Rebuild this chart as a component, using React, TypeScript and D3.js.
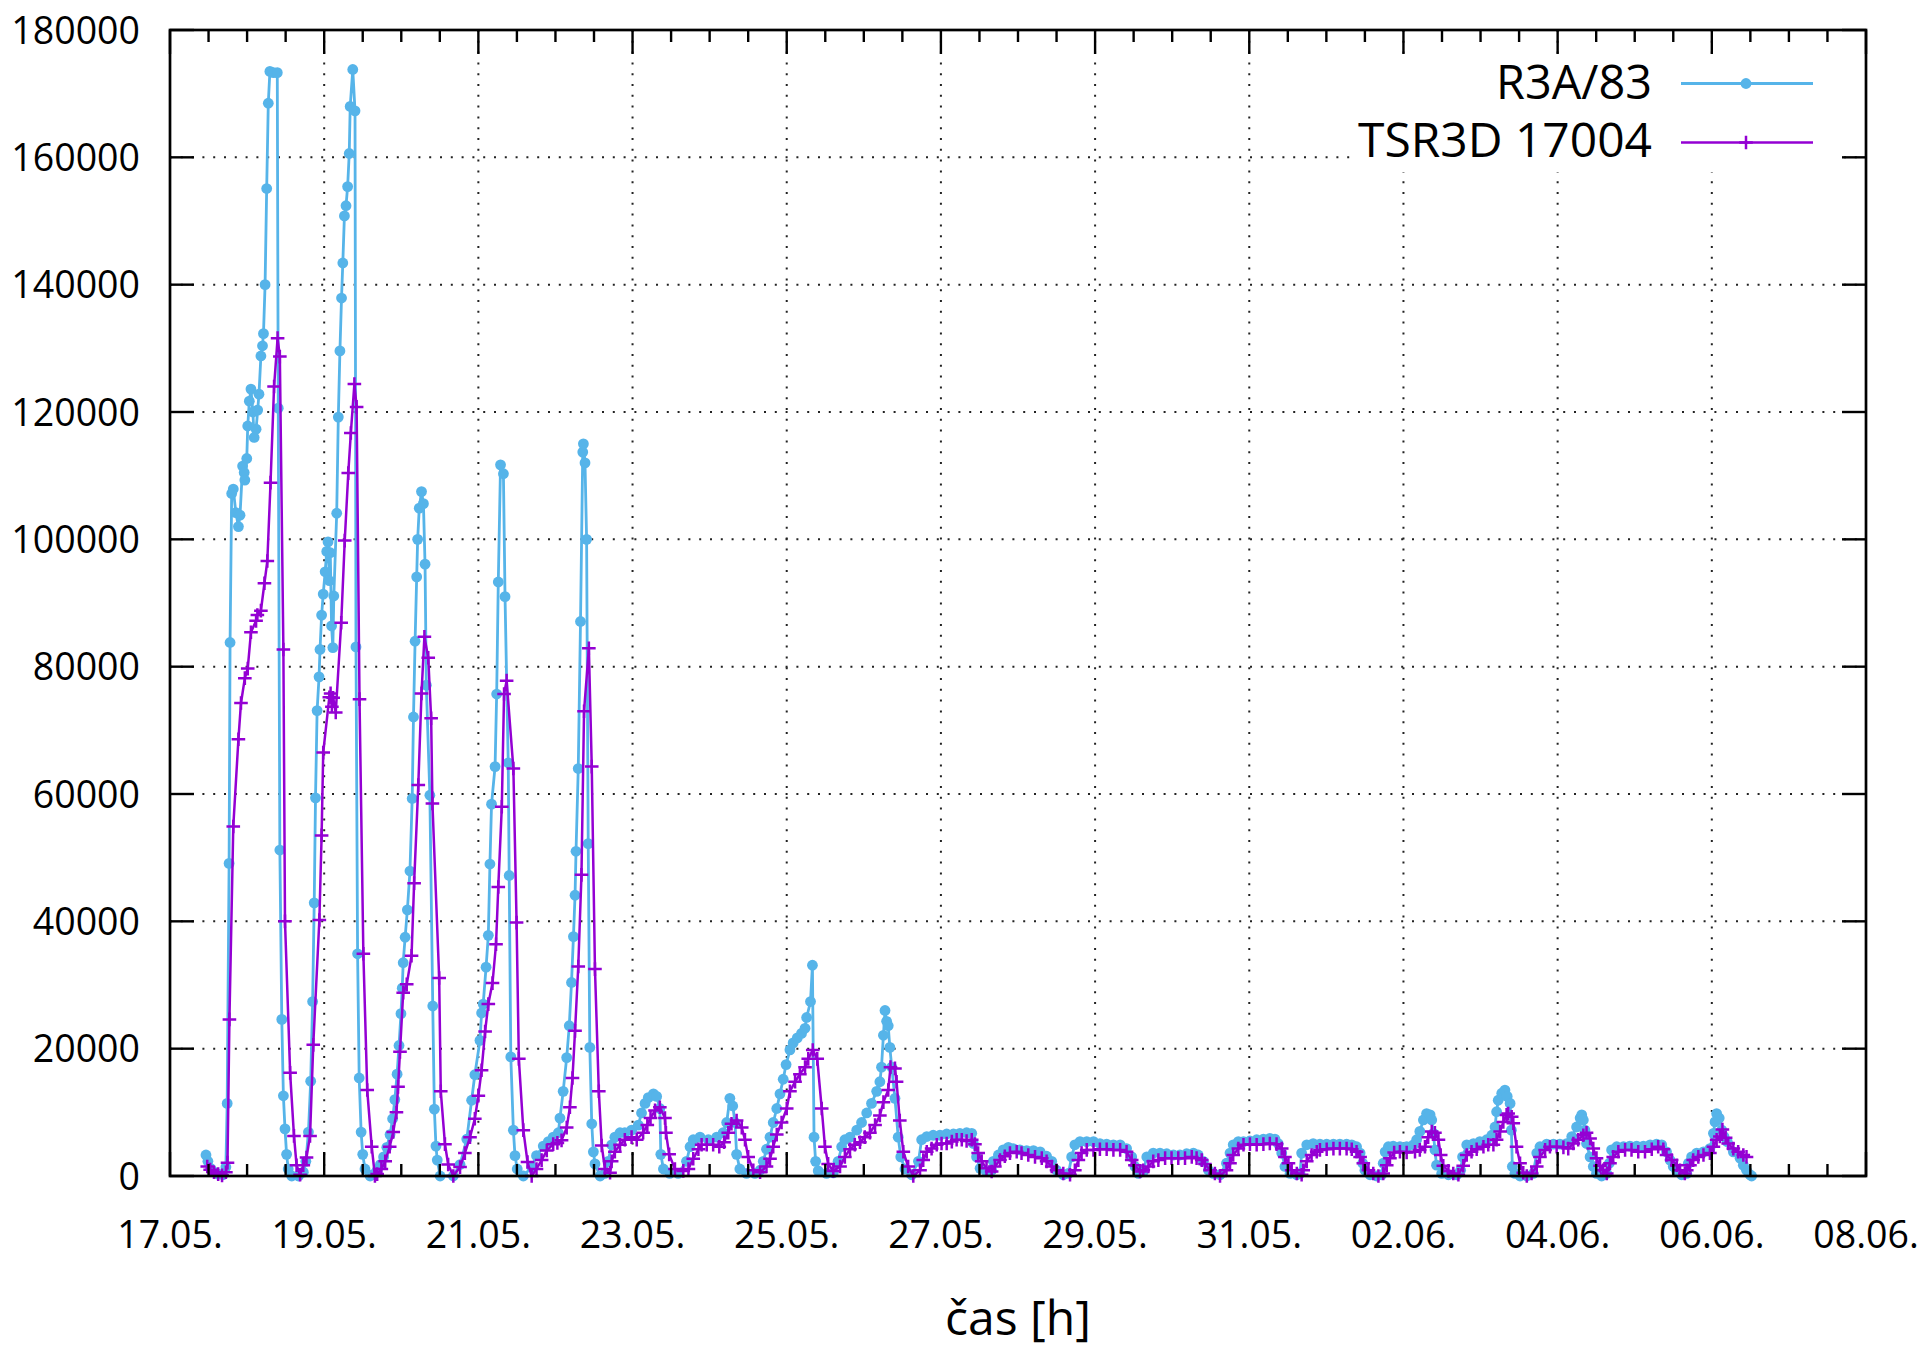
import React from "react";
import * as d3 from "d3";

// Time is stored as hours elapsed since 17.05. 00:00, values in the sensor's raw units.
const startDate = new Date(2021, 4, 17);
const endDate = new Date(2021, 5, 8);

// R3A/83 — peaks of 17.05.–23.05.
const r3aFirstWeek: [number, number][] = [
  [11.2, 3300], [11.8, 2300], [12.6, 1200], [13.5, 700], [15.0, 300], [16.5, 200], [17.4, 1400],
  [17.8, 11400], [18.4, 49100], [18.7, 83800], [19.2, 107200], [19.7, 107900], [20.5, 104200],
  [21.3, 102000], [21.8, 103800], [22.6, 111500], [23.1, 110500], [23.3, 109300], [23.9, 112700],
  [24.2, 117800], [24.7, 121700], [25.2, 123600], [25.8, 120000], [26.2, 116000], [26.8, 117300],
  [27.3, 120300], [27.7, 122800], [28.3, 128800], [28.8, 130400], [29.1, 132300], [29.6, 140000],
  [30.1, 155100], [30.6, 168500], [31.1, 173500], [32.2, 173300], [33.4, 173300], [33.7, 120600],
  [34.2, 51200], [34.8, 24600], [35.3, 12600], [35.8, 7400], [36.3, 3400], [36.8, 1100], [37.9, 0],
  [40.0, 0], [41.5, 600], [42.3, 2300], [43.1, 6900], [43.8, 14900], [44.4, 27400], [44.9, 42900],
  [45.3, 59400], [45.8, 73100], [46.4, 78400], [46.7, 82700], [47.2, 88100], [47.7, 91400],
  [48.3, 94900], [48.8, 98100], [49.2, 99600], [49.6, 93500], [49.9, 97900], [50.3, 86400],
  [50.7, 83000], [51.0, 91100], [51.9, 104100], [52.4, 119200], [52.9, 129600], [53.4, 137900],
  [53.8, 143400], [54.3, 150800], [54.8, 152400], [55.3, 155400], [55.8, 160600], [56.1, 168000],
  [56.9, 173800], [57.6, 167300], [57.9, 83100], [58.4, 34900], [58.9, 15400], [59.5, 6900],
  [60.0, 3400], [60.7, 1100], [62.3, 0], [63.5, 300], [64.5, 900], [65.5, 1800], [66.5, 3000],
  [67.5, 4500], [68.5, 6500], [69.3, 9000], [70.0, 12000], [70.7, 16000], [71.3, 20500],
  [71.9, 25500], [72.3, 29500], [72.6, 33500], [73.2, 37500], [73.9, 41800], [74.7, 47900],
  [75.4, 59300], [75.8, 72100], [76.3, 84000], [76.8, 94100], [77.1, 100000], [77.6, 104900],
  [78.3, 107500], [78.9, 105600], [79.4, 96100], [79.8, 77100], [80.9, 59800], [81.8, 26700],
  [82.3, 10500], [82.8, 4700], [83.2, 2500], [84.1, 0], [88.2, 0], [90.3, 1800], [92.4, 5800],
  [93.9, 11900], [94.9, 15900], [96.5, 21300], [97.0, 25600], [97.5, 27000], [98.4, 32800],
  [99.1, 37800], [99.6, 49000], [100.1, 58400], [101.2, 64300], [101.7, 75700], [102.2, 93300],
  [102.9, 111700], [103.8, 110300], [104.3, 91000], [105.3, 64900], [105.6, 47200], [106.1, 18700],
  [106.9, 7200], [107.4, 3200], [108.1, 1100], [110.0, 0], [112.6, 1400], [114.1, 3200],
  [116.2, 4700], [117.8, 5400], [119.3, 6100], [120.9, 6800], [121.4, 9100], [122.4, 13300],
  [123.5, 18600], [124.3, 23600], [125.0, 30400], [125.6, 37600], [126.1, 44100], [126.4, 51000],
  [127.1, 64000], [127.8, 87100], [128.5, 113700], [128.7, 115000], [129.2, 112000],
  [129.7, 100000], [130.2, 52200], [130.7, 20200], [131.3, 8200], [131.8, 3800], [132.3, 1900],
  [133.9, 0],
];

// R3A/83 — 23.05.–27.05.
const r3aSecondWeek: [number, number][] = [
  [135.4, 400], [136.4, 2300], [137.5, 4900], [138.5, 6100], [140.1, 6800], [141.6, 6800],
  [143.7, 7200], [145.8, 8000], [146.8, 9900], [147.9, 11400], [148.9, 12300], [150.5, 12900],
  [151.5, 12500], [152.5, 10600], [152.8, 3400], [153.6, 1100], [155.6, 400], [158.2, 400],
  [160.8, 2300], [161.9, 4600], [162.9, 5700], [165.0, 6100], [167.6, 5700], [170.2, 6100],
  [172.2, 6800], [173.3, 8400], [174.3, 12200], [175.2, 11000], [175.9, 8400], [176.4, 3400],
  [177.4, 1100], [179.5, 400], [182.1, 400], [183.7, 900], [184.7, 2300], [185.7, 4200],
  [186.8, 6100], [187.8, 8400], [188.9, 10600], [189.9, 12900], [190.9, 15200], [191.8, 17500],
  [193.0, 19800], [194.0, 20900], [195.3, 21700], [196.6, 22400], [197.7, 23200], [198.2, 24900],
  [199.4, 27400], [200.0, 33100], [200.5, 6100], [201.0, 2300], [201.8, 800], [204.4, 400],
  [206.5, 500], [208.0, 2300], [209.1, 4600], [210.1, 5700], [211.7, 6100], [213.8, 7200],
  [215.3, 8400], [216.9, 9900], [218.4, 11400], [220.0, 13300], [221.0, 14800], [221.5, 17100],
  [222.1, 22100], [222.6, 26000], [223.1, 24300], [223.6, 23600], [224.1, 20200], [224.7, 17100],
  [225.7, 12200], [226.7, 6100], [227.5, 3000], [228.8, 1100], [230.9, 200],
];

// R3A/83 — 27.05.–31.05.
const r3aThirdWeek: [number, number][] = [
  [233.0, 2300], [234.0, 5700], [235.6, 6200], [237.6, 6400], [239.7, 6400], [241.8, 6600],
  [243.9, 6600], [245.9, 6700], [248.0, 6800], [249.6, 6700], [250.1, 5100], [251.1, 3000],
  [252.2, 1200], [254.2, 700], [255.8, 900], [256.3, 2300], [257.9, 3300], [259.4, 4100],
  [261.0, 4500], [262.5, 4300], [264.6, 4100], [266.7, 4000], [268.8, 4000], [270.9, 3800],
  [272.9, 3100], [274.5, 2300], [276.0, 900], [278.1, 200], [279.7, 400], [280.7, 3000],
  [281.7, 4900], [283.3, 5400], [285.4, 5400], [287.5, 5400], [289.5, 5100], [291.6, 5000],
  [293.7, 4900], [295.8, 4900], [297.8, 4300], [299.4, 3000], [300.4, 1500], [301.5, 400],
  [303.0, 700], [304.1, 3000], [306.1, 3600], [308.2, 3600], [310.3, 3500], [312.4, 3300],
  [314.4, 3300], [316.5, 3500], [318.6, 3600], [320.1, 3300], [321.7, 2300], [323.3, 900],
  [324.8, 400], [326.9, 200], [328.9, 2000], [330.0, 3600], [331.0, 4900], [332.6, 5400],
  [334.2, 5400], [336.2, 5500], [338.3, 5700], [340.4, 5800], [342.4, 5900], [344.0, 5800],
  [345.0, 5100], [346.1, 3600], [347.1, 1500], [348.7, 400], [350.8, 200], [351.8, 400],
  [352.3, 3600], [353.9, 4900], [355.9, 5100],
];

// R3A/83 — 31.05.–06.06.
const r3aFourthWeek: [number, number][] = [
  [358.0, 5000], [360.1, 5000], [362.2, 5000], [364.2, 5000], [366.3, 5000], [367.9, 4900],
  [369.4, 4600], [370.5, 3600], [371.3, 2000], [372.0, 900], [373.6, 200], [375.7, 0],
  [377.2, 200], [377.7, 2000], [378.3, 3800], [379.3, 4600], [380.8, 4700], [382.9, 4600],
  [385.0, 4600], [387.1, 4900], [388.1, 5700], [389.1, 7000], [390.2, 8800], [391.2, 9800],
  [392.3, 9600], [392.8, 8800], [393.3, 6700], [393.8, 4100], [394.3, 1700], [395.9, 400],
  [398.0, 200], [400.6, 200], [401.8, 900], [402.4, 3000], [403.7, 4900], [405.8, 5100],
  [407.8, 5400], [409.9, 5700], [411.5, 6400], [412.5, 7700], [413.0, 10100], [413.5, 11900],
  [414.6, 13000], [415.6, 13500], [416.3, 12500], [417.2, 11400], [417.6, 7200], [417.9, 1500],
  [418.7, 400], [420.3, 0], [422.4, 0], [424.4, 400], [425.5, 3600], [426.5, 4600],
  [428.6, 5000], [430.7, 5000], [432.7, 5000], [434.8, 5100], [436.4, 6200], [437.9, 7700],
  [439.0, 9100], [439.5, 9600], [440.0, 8800], [440.5, 7200], [441.0, 5100], [442.1, 3000],
  [443.1, 1500], [444.1, 400], [445.7, 0], [447.3, 400], [448.1, 2000], [448.8, 4100],
  [450.4, 4600], [452.5, 4600], [454.5, 4700], [456.6, 4700], [458.7, 4700], [460.8, 4900],
  [462.8, 5000], [464.4, 4900], [465.9, 3800], [467.0, 2500], [468.0, 1500], [469.1, 700],
  [470.6, 200], [472.2, 400], [472.7, 2000], [473.7, 3000], [475.3, 3600], [477.4, 3800],
  [479.4, 4300], [480.5, 6700], [481.0, 8500], [481.5, 9800], [482.3, 9100], [483.1, 7200],
  [483.8, 6200], [484.8, 5400], [486.7, 3800], [488.8, 2800], [489.8, 1700], [490.8, 900],
  [491.9, 200], [492.4, 0],
];

// TSR3D 17004 — peaks of 17.05.–23.05.
const tsrFirstWeek: [number, number][] = [
  [11.6, 1500], [12.5, 1000], [13.7, 600], [15.0, 300], [16.2, 100], [17.4, 600], [17.9, 2100],
  [18.5, 24600], [19.7, 54900], [21.3, 68600], [22.1, 74300], [23.3, 78200], [24.2, 79700],
  [25.2, 85400], [26.8, 87200], [27.2, 88100], [28.3, 88800], [29.4, 93100], [30.3, 96600],
  [31.3, 108900], [32.4, 124000], [33.5, 131600], [34.2, 128700], [35.3, 82700], [35.8, 40000],
  [37.4, 16200], [38.6, 6300], [39.4, 1700], [40.5, 200], [41.5, 1700], [42.5, 2900],
  [43.6, 6300], [44.6, 20600], [46.5, 40200], [47.2, 53500], [47.7, 66500], [49.6, 75200],
  [50.0, 75800], [50.4, 73700], [50.8, 75100], [51.6, 72800], [53.3, 86900], [54.4, 99800],
  [55.5, 110400], [56.3, 116700], [57.4, 124400], [58.1, 120800], [59.0, 74900], [60.2, 34900],
  [61.4, 13500], [62.8, 4600], [63.8, 0], [64.5, 300], [65.8, 1100], [67.0, 2300], [68.4, 4600],
  [69.5, 6900], [70.5, 10000], [71.0, 14000], [71.6, 19500], [72.6, 28800], [73.7, 30100],
  [75.2, 34600], [76.0, 46000], [77.3, 61400], [78.3, 75800], [79.2, 84700], [80.4, 81400],
  [81.3, 71900], [81.7, 58500], [83.8, 31100], [84.3, 13300], [85.6, 5000], [86.6, 1800],
  [88.2, 0], [90.3, 1400], [91.8, 3600], [93.4, 6100], [94.9, 9000], [96.0, 12600], [97.0, 16600],
  [98.1, 22700], [99.1, 27000], [100.4, 30300], [101.5, 36400], [102.2, 45400], [103.3, 58000],
  [104.0, 75700], [104.8, 77800], [106.9, 64000], [107.9, 39800], [108.6, 18400], [110.0, 7200],
  [111.3, 2200], [112.6, 0], [114.1, 1100], [115.7, 2500], [117.3, 4000], [119.3, 5000],
  [120.6, 5200], [121.9, 5600], [123.5, 7600], [124.5, 10800], [125.3, 15400], [126.1, 22800],
  [127.1, 32900], [128.1, 47300], [128.9, 73000], [130.4, 82900], [131.3, 64300], [132.3, 32500],
  [133.5, 13300], [134.4, 4800], [135.4, 1100], [137.0, 500],
];

// TSR3D 17004 — 23.05.–27.05.
const tsrSecondWeek: [number, number][] = [
  [137.5, 2300], [138.5, 3800], [140.1, 4900], [141.6, 5700], [143.7, 6100], [145.3, 5700],
  [147.3, 6800], [148.6, 8000], [149.6, 9100], [151.0, 10300], [152.5, 10800], [154.1, 9100],
  [154.4, 6800], [155.4, 3400], [157.2, 1100], [159.8, 800], [161.4, 1100], [162.9, 2700],
  [164.5, 4200], [165.5, 4900], [167.1, 4900], [169.1, 4900], [171.0, 4600], [172.5, 5300],
  [173.8, 6800], [174.8, 8200], [176.4, 8700], [178.0, 7600], [179.0, 5700], [180.0, 3000],
  [181.6, 900], [183.7, 600], [185.7, 1500], [186.8, 2700], [187.8, 4600], [188.9, 6500],
  [190.4, 8400], [192.0, 10600], [193.0, 13300], [194.6, 14800], [196.1, 16000], [197.7, 17100],
  [198.7, 18400], [200.1, 19800], [201.5, 18400], [202.9, 10600], [203.9, 4600], [204.9, 1900],
  [206.5, 800], [208.6, 1500], [210.1, 3000], [211.7, 4200], [213.2, 4900], [214.8, 5300],
  [216.3, 6100], [217.9, 6800], [219.5, 8000], [221.0, 9500], [222.1, 11600], [223.6, 13500],
  [224.3, 17100], [225.7, 16900], [226.2, 14800], [227.2, 8700], [228.3, 3800], [229.8, 1500],
  [231.4, 0],
];

// TSR3D 17004 — 27.05.–31.05.
const tsrThirdWeek: [number, number][] = [
  [233.5, 900], [234.5, 2500], [235.6, 3800], [237.1, 4300], [238.7, 4900], [240.2, 5100],
  [241.8, 5100], [243.4, 5400], [244.9, 5700], [246.5, 5700], [248.0, 5500], [249.6, 5700],
  [250.6, 5000], [251.6, 3600], [252.7, 2300], [254.2, 1200], [255.8, 700], [256.8, 1500],
  [258.4, 2500], [259.9, 3100], [261.5, 3600], [263.6, 3800], [265.1, 3600], [267.2, 3300],
  [269.3, 3000], [271.4, 2800], [272.9, 2300], [274.5, 1500], [276.0, 900], [278.1, 400],
  [280.2, 200], [281.7, 900], [282.8, 2500], [283.8, 3600], [285.4, 4100], [287.5, 4100],
  [289.5, 4200], [291.6, 4200], [293.7, 4100], [295.8, 4100], [297.8, 3800], [299.4, 2500],
  [300.4, 1700], [302.0, 700], [303.0, 900], [304.6, 1500], [306.1, 2300], [307.7, 2500],
  [309.8, 2800], [311.8, 2800], [313.9, 2800], [316.0, 2800], [318.1, 3000], [319.6, 2800],
  [321.2, 2500], [322.2, 1900], [323.8, 900], [325.3, 400], [326.9, 0], [328.9, 900],
  [330.0, 2000], [331.0, 3300], [332.6, 4300], [334.2, 4900], [336.2, 5000], [338.3, 4900],
  [340.4, 5000], [342.4, 5100], [344.5, 5000], [346.1, 4300], [347.1, 3000], [348.2, 2000],
  [349.2, 900], [350.8, 400], [352.3, 200], [352.8, 900], [353.9, 2300], [355.4, 3300],
  [357.0, 3800],
];

// TSR3D 17004 — 31.05.–06.06.
const tsrFourthWeek: [number, number][] = [
  [358.0, 4100], [360.1, 4200], [362.2, 4300], [364.2, 4300], [366.3, 4300], [367.9, 4200],
  [369.4, 3800], [370.5, 3000], [371.5, 2000], [373.1, 900], [374.6, 400], [376.2, 0],
  [377.7, 400], [378.8, 1700], [379.8, 2800], [381.1, 3700], [382.9, 3800], [385.0, 3700],
  [387.6, 3800], [389.1, 4100], [390.7, 4600], [391.7, 6100], [392.8, 7000], [393.8, 6800],
  [394.9, 5700], [395.6, 3300], [396.4, 1600], [398.0, 800], [399.5, 400], [401.1, 200],
  [402.6, 1600], [403.7, 3300], [405.2, 3800], [406.8, 4200], [408.9, 4600], [410.4, 4900],
  [412.0, 4900], [413.0, 5700], [414.1, 7000], [415.1, 8500], [416.1, 9600], [416.6, 9800],
  [417.7, 9300], [418.2, 8300], [419.2, 4600], [420.3, 2000], [421.3, 500], [422.4, 0],
  [423.9, 400], [425.5, 1500], [426.5, 3000], [428.1, 4100], [429.6, 4600], [431.7, 4600],
  [433.8, 4500], [435.3, 4300], [436.9, 5100], [438.4, 5700], [440.0, 6400], [441.0, 6800],
  [442.1, 5900], [443.1, 4300], [444.1, 2800], [445.2, 1600], [446.2, 900], [447.3, 400],
  [448.3, 2000], [449.3, 3000], [450.9, 3800], [453.0, 4100], [455.0, 4100], [457.1, 3800],
  [459.2, 3800], [461.3, 4200], [463.3, 4600], [464.9, 4200], [465.9, 3300], [467.5, 2500],
  [469.1, 1700], [470.1, 900], [471.6, 400], [472.2, 900], [473.2, 1700], [474.2, 2500],
  [475.8, 3000], [477.4, 3300], [479.4, 3600], [480.5, 4600], [481.5, 5700], [482.5, 6200],
  [483.3, 7300], [484.3, 6000], [485.1, 5100], [486.7, 4300], [488.2, 3800], [489.8, 3300],
  [490.8, 3000],
];

const seriesNames = ["R3A/83", "TSR3D 17004"];
const seriesColors = ["#56b4e9", "#9400d3"];

const yTickValues = d3.range(0, 180001, 20000);
const xTickDayOffsets = d3.range(0, 23, 2);

const FONT = "'Open Sans', 'Noto Sans', sans-serif";

export default function App() {
  const width = 1929;
  const height = 1349;
  const plot = { left: 170, right: 1866, top: 30, bottom: 1176 };

  const x = d3.scaleTime().domain([startDate, endDate]).range([plot.left, plot.right]);
  const y = d3.scaleLinear().domain([0, 180000]).range([plot.bottom, plot.top]);
  const at = (h: number) => new Date(startDate.getTime() + h * 3600 * 1000);
  const px = (d: [number, number]) => x(at(d[0]));
  const py = (d: [number, number]) => y(d[1]);

  const line = d3.line<[number, number]>().x(px).y(py);

  const r3a = [...r3aFirstWeek, ...r3aSecondWeek, ...r3aThirdWeek, ...r3aFourthWeek];
  const tsr = [...tsrFirstWeek, ...tsrSecondWeek, ...tsrThirdWeek, ...tsrFourthWeek];

  const majorDates = xTickDayOffsets.map((d) => d3.timeDay.offset(startDate, d));
  const minorDates = d3.timeHour.every(12)!.range(startDate, endDate).filter(
    (d) => !majorDates.some((m) => +m === +d)
  );
  const fmt = d3.timeFormat("%d.%m.");

  const gridColor = "#222";
  const tickW = 2.4;
  const majorLen = 24;
  const minorLen = 12;
  const dotR = 5.4;
  const crossS = 6.8;

  const cross = (cx: number, cy: number, s: number) =>
    `M${cx - s},${cy}H${cx + s}M${cx},${cy - s}V${cy + s}`;

  return (
    <svg
      width={width}
      height={height}
      viewBox={`0 0 ${width} ${height}`}
      style={{ position: "absolute", left: 0, top: 0, display: "block", background: "#fff" }}
    >
      <rect x={0} y={0} width={width} height={height} fill="#fff" />

      {/* dotted grid */}
      <g stroke={gridColor} strokeWidth={2} strokeDasharray="2 8.8" fill="none">
        {yTickValues
          .filter((v) => v > 0 && v < 180000)
          .map((v) => (
            <line key={`gy${v}`} x1={plot.left} x2={plot.right} y1={y(v)} y2={y(v)} />
          ))}
        {majorDates.slice(1, -1).map((d) => (
          <line key={`gx${+d}`} x1={x(d)} x2={x(d)} y1={plot.top} y2={plot.bottom} />
        ))}
      </g>

      {/* opaque key background */}
      <rect x={1352} y={56} width={490} height={116} fill="#fff" />

      {/* R3A/83 */}
      <path d={line(r3a) ?? ""} fill="none" stroke={seriesColors[0]} strokeWidth={2.8} strokeLinejoin="round" />
      <g fill={seriesColors[0]}>
        {r3a.map((d, i) => (
          <circle key={`r${i}`} cx={px(d)} cy={py(d)} r={dotR} />
        ))}
      </g>

      {/* TSR3D 17004 */}
      <path d={line(tsr) ?? ""} fill="none" stroke={seriesColors[1]} strokeWidth={2.5} strokeLinejoin="round" />
      <path
        d={tsr.map((d) => cross(px(d), py(d), crossS)).join("")}
        fill="none"
        stroke={seriesColors[1]}
        strokeWidth={2.5}
      />

      {/* border */}
      <rect
        x={plot.left}
        y={plot.top}
        width={plot.right - plot.left}
        height={plot.bottom - plot.top}
        fill="none"
        stroke="#000"
        strokeWidth={2.7}
      />

      {/* ticks */}
      <g stroke="#000" strokeWidth={tickW}>
        {yTickValues.map((v) => (
          <g key={`ty${v}`}>
            <line x1={plot.left} x2={plot.left + majorLen} y1={y(v)} y2={y(v)} />
            <line x1={plot.right} x2={plot.right - majorLen} y1={y(v)} y2={y(v)} />
          </g>
        ))}
        {majorDates.map((d) => (
          <g key={`tx${+d}`}>
            <line x1={x(d)} x2={x(d)} y1={plot.bottom} y2={plot.bottom - majorLen} />
            <line x1={x(d)} x2={x(d)} y1={plot.top} y2={plot.top + majorLen} />
          </g>
        ))}
        {minorDates.map((d) => (
          <g key={`tm${+d}`}>
            <line x1={x(d)} x2={x(d)} y1={plot.bottom} y2={plot.bottom - minorLen} />
            <line x1={x(d)} x2={x(d)} y1={plot.top} y2={plot.top + minorLen} />
          </g>
        ))}
      </g>

      {/* tick labels */}
      <g fontFamily={FONT} fontSize={37.5} fill="#000">
        {yTickValues.map((v) => (
          <text key={`ly${v}`} x={140} y={y(v) + 13.5} textAnchor="end">
            {String(v)}
          </text>
        ))}
        {majorDates.map((d) => (
          <text key={`lx${+d}`} x={x(d)} y={1248} textAnchor="middle">
            {fmt(d)}
          </text>
        ))}
      </g>

      {/* axis title */}
      <text
        x={(plot.left + plot.right) / 2}
        y={1335}
        textAnchor="middle"
        fontFamily={FONT}
        fontSize={48}
        fill="#000"
      >
        čas [h]
      </text>

      {/* key */}
      <g fontFamily={FONT} fontSize={48} fill="#000">
        <text x={1652} y={98.5} textAnchor="end" textLength={156} lengthAdjust="spacingAndGlyphs">
          {seriesNames[0]}
        </text>
        <text x={1652} y={157} textAnchor="end" textLength={294} lengthAdjust="spacingAndGlyphs">
          {seriesNames[1]}
        </text>
      </g>
      <line x1={1681} x2={1813} y1={83.5} y2={83.5} stroke={seriesColors[0]} strokeWidth={2.8} />
      <circle cx={1746} cy={83.5} r={dotR} fill={seriesColors[0]} />
      <line x1={1681} x2={1813} y1={142.5} y2={142.5} stroke={seriesColors[1]} strokeWidth={2.5} />
      <path d={cross(1746, 142.5, crossS)} stroke={seriesColors[1]} strokeWidth={2.5} fill="none" />
    </svg>
  );
}
